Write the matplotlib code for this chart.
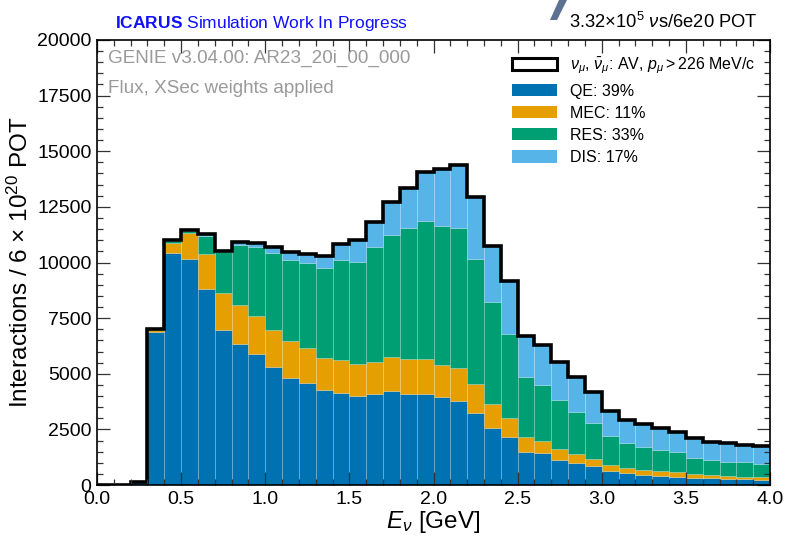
import numpy as np
import matplotlib
matplotlib.use("Agg")
import matplotlib.pyplot as plt
from matplotlib.patches import Patch, Polygon

plt.rcParams['font.family'] = ['Liberation Sans', 'DejaVu Sans']
plt.rcParams['mathtext.fontset'] = 'custom'
plt.rcParams['mathtext.rm'] = 'Liberation Sans'
plt.rcParams['mathtext.it'] = 'Liberation Sans:italic'
plt.rcParams['mathtext.bf'] = 'Liberation Sans:bold'

# Bin edges (GeV)
bin_lo = np.round(np.arange(0.0, 4.0, 0.1), 2)
edges = np.round(np.arange(0.0, 4.01, 0.1), 2)

qe = [0, 0, 130, 6890, 10440, 10170, 8795, 6966, 6323, 5887,
      5317, 4823, 4598, 4250, 4140, 4000, 4090, 4239, 4075, 4105,
      3940, 3790, 3250, 2576, 2172, 1498, 1423, 1124, 974, 854,
      629, 524, 449, 419, 374, 329, 299, 270, 254, 225]
mec = [0, 0, 0, 70, 450, 1140, 1585, 1677, 1766, 1708,
       1663, 1635, 1545, 1480, 1477, 1438, 1453, 1499, 1573, 1557,
       1467, 1468, 1289, 1050, 824, 637, 537, 494, 419, 314,
       270, 225, 225, 225, 225, 150, 150, 134, 120, 134]
res = [0, 0, 0, 30, 90, 90, 810, 1842, 2697, 3115,
       3460, 3652, 3820, 4008, 4503, 4598, 5138, 5497, 5887, 6202,
       6247, 6277, 5617, 4612, 3790, 2720, 2534, 2202, 1903, 1603,
       1303, 1124, 1019, 914, 899, 750, 675, 630, 645, 570]
dis = [0, 0, 0, 10, 30, 60, 90, 45, 149, 180,
       270, 345, 437, 552, 730, 974, 1153, 1469, 1798, 2188,
       2533, 2846, 2773, 2517, 2364, 1841, 1786, 1693, 1573, 1424,
       1139, 1048, 1033, 988, 899, 868, 823, 839, 779, 824]

labels = ['QE: 39%', 'MEC: 11%', 'RES: 33%', 'DIS: 17%']
colors = ['#0072b2', '#e69f00', '#009e73', '#56b4e9']
total_label = r'$\nu_\mu$, $\bar{\nu}_\mu$: AV, $p_\mu > 226$ MeV/c'

fig = plt.figure(figsize=(7.86, 5.36), dpi=100)
ax = fig.add_axes([97/786, 1-485/536, 673/786, 445/536])

bottom = np.zeros(len(bin_lo))
for vals, col in zip([qe, mec, res, dis], colors):
    v = np.array(vals, dtype=float)
    ax.bar(bin_lo, v, width=0.1, bottom=bottom, align='edge', color=col,
           edgecolor=(1, 1, 1, 0.18), linewidth=0.6)
    bottom = bottom + v
total = bottom
ax.stairs(total, edges, color='black', linewidth=2.6, baseline=None)

ax.set_xlim(0, 4)
ax.set_ylim(0, 20000)
ax.set_xticks(np.arange(0, 4.01, 0.5))
ax.set_xticks(np.arange(0, 4.01, 0.1), minor=True)
ax.set_yticks(np.arange(0, 20001, 2500))
ax.set_yticks(np.arange(0, 20001, 500), minor=True)
ax.tick_params(which='both', direction='in', top=True, right=True, labelsize=14, width=0.9, color='#333333')
ax.tick_params(which='major', length=9.5)
ax.tick_params(which='minor', length=4.5)
for s in ax.spines.values():
    s.set_linewidth(1.2)
ax.xaxis.set_major_formatter(matplotlib.ticker.FormatStrFormatter('%.1f'))
ax.tick_params(axis='x', pad=4)
ax.tick_params(axis='y', pad=4)

ax.set_xlabel(r'$E_\nu$ [GeV]', fontsize=17.5, labelpad=1)
ax.set_ylabel(r'Interactions / 6 $\times$ 10$^{20}$ POT', fontsize=17.5, labelpad=3)

ax.text(0.027, 1.027, r'$\mathbf{ICARUS}$ Simulation Work In Progress', transform=ax.transAxes,
        color='#1010ff', fontsize=12.5, va='baseline', ha='left')
ax.text(0.981, 1.027, r'3.32$\times$10$^5$ $\nu$s/6e20 POT', transform=ax.transAxes,
        color='black', fontsize=13.2, va='baseline', ha='right')

ax.text(0.016, 0.958, 'GENIE v3.04.00: AR23_20i_00_000', transform=ax.transAxes,
        color='#9a9a9a', fontsize=13.6, va='center', ha='left')
ax.text(0.016, 0.892, 'Flux, XSec weights applied', transform=ax.transAxes,
        color='#9a9a9a', fontsize=13.6, va='center', ha='left')

handles = [Patch(facecolor='white', edgecolor='black', linewidth=2.2)]
handles += [Patch(facecolor=c, edgecolor='none') for c in colors]
leg = ax.legend(handles, [total_label] + labels, loc='upper right', frameon=False,
                fontsize=11.5, handlelength=2.8, handleheight=0.8, handletextpad=0.8,
                labelspacing=0.45, borderaxespad=0.3, bbox_to_anchor=(0.995, 0.99))

# partial logo fragment at the top edge
W, H = 786.0, 536.0
frag = [(559/W, 1.0), (567/W, 1.0), (557/W, 1-20/H), (550/W, 1-20/H)]
fig.patches.append(Polygon(frag, closed=True, transform=fig.transFigure,
                           facecolor='#5d7190', edgecolor='none'))

fig.savefig('out.png', dpi=100)
